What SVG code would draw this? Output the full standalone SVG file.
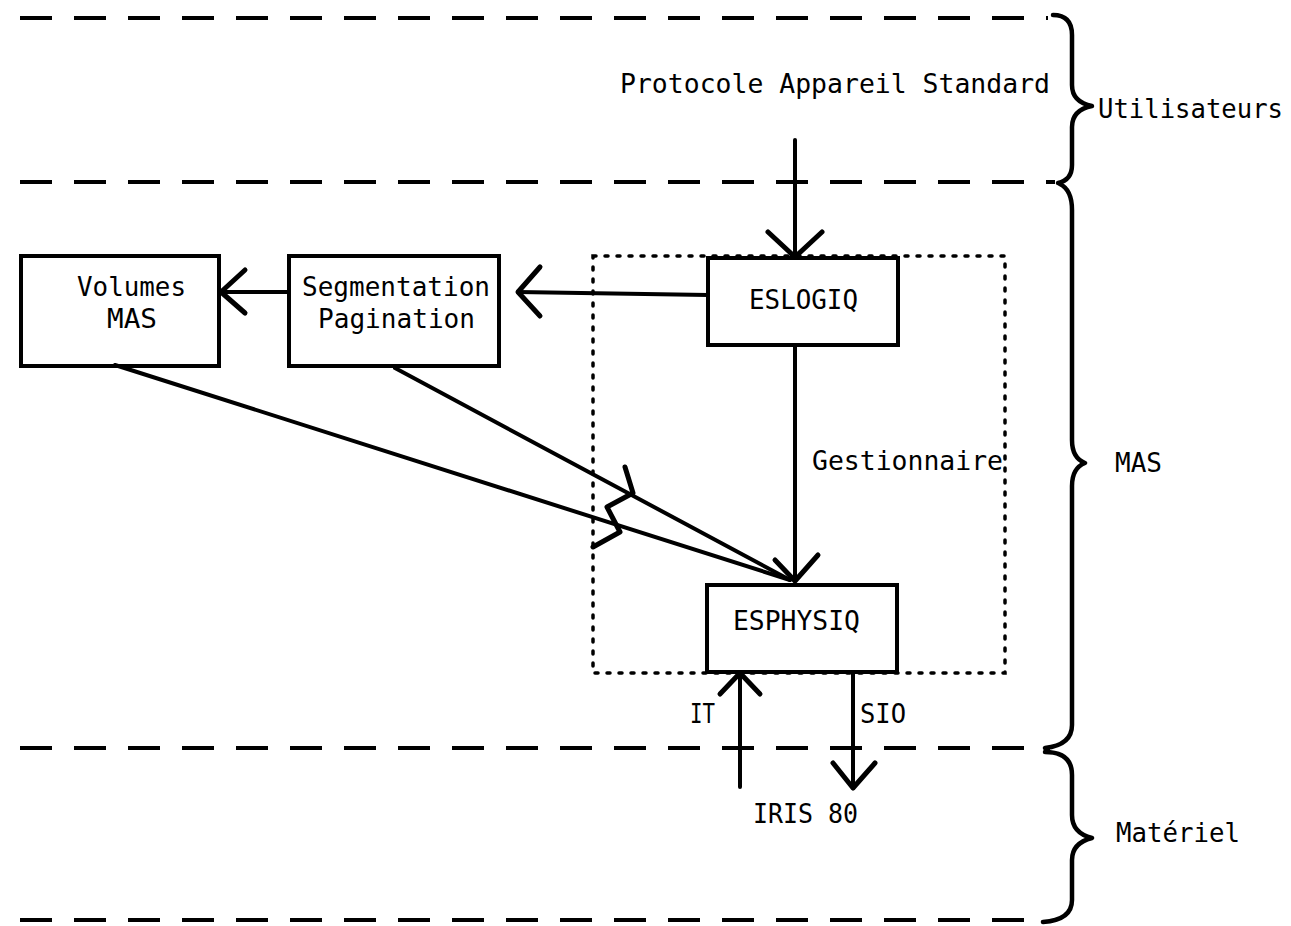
<svg xmlns="http://www.w3.org/2000/svg" width="1291" height="926" viewBox="0 0 1291 926">
<style>
text{font-family:"DejaVu Sans Mono","Liberation Mono",monospace;font-size:27px;fill:#000}
.box{fill:none;stroke:#000;stroke-width:4}
.ln{fill:none;stroke:#000;stroke-width:4;stroke-linecap:round;stroke-linejoin:round}
.head{fill:none;stroke:#000;stroke-width:5;stroke-linecap:round;stroke-linejoin:round}
.dash{fill:none;stroke:#000;stroke-width:4;stroke-dasharray:32 22}
.dot{fill:none;stroke:#000;stroke-width:3.5;stroke-dasharray:3 9;stroke-linecap:round}
.brace{fill:none;stroke:#000;stroke-width:4.5;stroke-linecap:round;stroke-linejoin:round}
</style>
<rect width="1291" height="926" fill="#fff"/>
<g id="layers">
<line class="dash" x1="20" y1="18" x2="1048" y2="18"/>
<line class="dash" x1="20" y1="182" x2="1055" y2="182"/>
<line class="dash" x1="20" y1="748" x2="1050" y2="748"/>
<line class="dash" x1="20" y1="920" x2="1045" y2="920"/>
<path class="brace" d="M1053,15 Q1072,15 1072,35 L1072,85 Q1072,102 1092,106 Q1072,110 1072,127 L1072,165 Q1072,180 1058,183"/>
<path class="brace" d="M1060,184 Q1072,190 1072,210 L1072,440 Q1072,458 1085,463 Q1072,468 1072,486 L1072,725 Q1072,745 1045,748"/>
<path class="brace" d="M1045,752 Q1072,752 1072,775 L1072,815 Q1072,833 1092,838 Q1072,843 1072,860 L1072,900 Q1072,920 1043,922"/>
<text x="1098" y="118" textLength="185" lengthAdjust="spacingAndGlyphs">Utilisateurs</text>
<text x="1115" y="472" textLength="47" lengthAdjust="spacingAndGlyphs">MAS</text>
<text x="1116" y="842" textLength="124" lengthAdjust="spacingAndGlyphs">Matériel</text>
</g>
<g id="protocole">
<text x="620" y="93" textLength="430" lengthAdjust="spacingAndGlyphs">Protocole Appareil Standard</text>
</g>
<g id="gestionnaire">
<rect class="dot" x="593" y="256" width="412" height="417"/>
<text x="812" y="470" textLength="191" lengthAdjust="spacingAndGlyphs">Gestionnaire</text>
</g>
<g id="volumes">
<rect class="box" x="21" y="256" width="198" height="110"/>
<text x="77" y="296" textLength="109" lengthAdjust="spacingAndGlyphs">Volumes</text>
<text x="107" y="328" textLength="50" lengthAdjust="spacingAndGlyphs">MAS</text>
</g>
<g id="segmentation">
<rect class="box" x="289" y="256" width="210" height="110"/>
<text x="302" y="296" textLength="188" lengthAdjust="spacingAndGlyphs">Segmentation</text>
<text x="318" y="328" textLength="157" lengthAdjust="spacingAndGlyphs">Pagination</text>
</g>
<g id="eslogiq">
<rect class="box" x="708" y="258" width="190" height="87"/>
<text x="749" y="309" textLength="109" lengthAdjust="spacingAndGlyphs">ESLOGIQ</text>
</g>
<g id="esphysiq">
<rect class="box" x="707" y="585" width="190" height="87"/>
<text x="733" y="630" textLength="127" lengthAdjust="spacingAndGlyphs">ESPHYSIQ</text>
</g>
<g id="iris">
<text x="753" y="823" textLength="105" lengthAdjust="spacingAndGlyphs">IRIS 80</text>
</g>
<g id="connectors">
<line class="ln" x1="795" y1="140" x2="795" y2="257"/>
<polyline class="head" points="768,232 795,257 822,232"/>
<line class="ln" x1="708" y1="295" x2="518" y2="292"/>
<polyline class="head" points="540,267 518,292 540,316"/>
<line class="ln" x1="289" y1="292" x2="221" y2="292"/>
<polyline class="head" points="245,270 221,292 245,313"/>
<line class="ln" x1="795" y1="345" x2="795" y2="581"/>
<polyline class="head" points="775,560 795,581 818,555"/>
<line class="ln" x1="395" y1="368" x2="790" y2="580"/>
<line class="ln" x1="115" y1="365" x2="790" y2="580"/>
<polyline class="head" points="625,467 633,493 607,507 620,532 593,547"/>
<line class="ln" x1="740" y1="787" x2="740" y2="673"/>
<polyline class="head" points="720,694 740,673 760,694"/>
<line class="ln" x1="853" y1="672" x2="853" y2="788"/>
<polyline class="head" points="833,763 853,788 875,763"/>
<text x="690" y="723" textLength="25" lengthAdjust="spacingAndGlyphs">IT</text>
<text x="860" y="723" textLength="46" lengthAdjust="spacingAndGlyphs">SIO</text>
</g>
</svg>
